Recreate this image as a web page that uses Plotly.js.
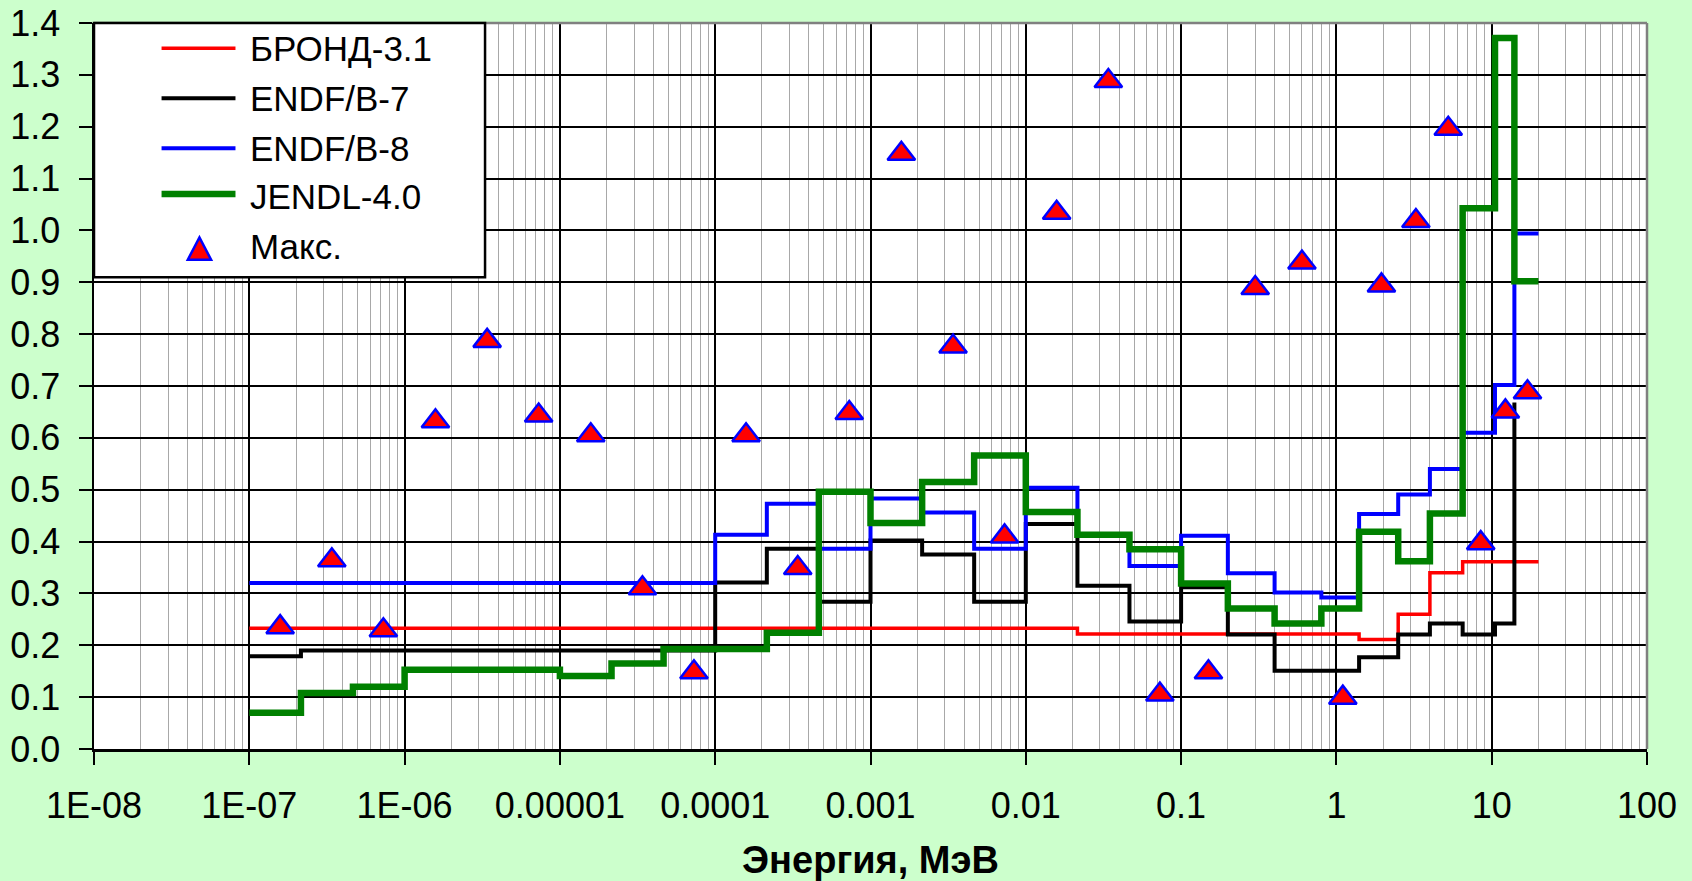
<!DOCTYPE html>
<html>
<head>
<meta charset="utf-8">
<script src="https://cdn.plot.ly/plotly-3.0.1.min.js"></script>
<style>
  html, body { margin: 0; padding: 0; background: #CCFFCC; }
  #chart { width: 1692px; height: 881px; }
</style>
</head>
<body>
<div id="chart"></div>
<script>
// ---------- DATA ----------
// Group boundaries, MeV
const edges = [1e-7, 2.15e-7, 4.65e-7, 1e-6, 2.15e-6, 4.65e-6, 1e-5, 2.15e-5, 4.65e-5,
  1e-4, 2.15e-4, 4.65e-4, 1e-3, 2.15e-3, 4.65e-3, 0.01, 0.0215, 0.0465, 0.1, 0.2, 0.4,
  0.8, 1.4, 2.5, 4, 6.5, 10.5, 14, 20];

// Step values (value of each group at its left boundary; last point closes the step)
const brond31 = [0.233, 0.233, 0.233, 0.233, 0.233, 0.233, 0.233, 0.233, 0.233, 0.233,
  0.233, 0.233, 0.233, 0.233, 0.233, 0.233, 0.222, 0.222, 0.222, 0.222, 0.222, 0.222,
  0.211, 0.26, 0.34, 0.361, 0.361, 0.361, 0.361];

const endfb7E = [1e-7, 2.15e-7, 4.65e-7, 1e-6, 2.15e-6, 4.65e-6, 1e-5, 2.15e-5, 4.65e-5,
  1e-4, 2.15e-4, 4.65e-4, 1e-3, 2.15e-3, 4.65e-3, 0.01, 0.0215, 0.0465, 0.1, 0.2, 0.4,
  0.8, 1.4, 2.5, 4, 6.5, 10.5, 14];
const endfb7 = [0.179, 0.19, 0.19, 0.19, 0.19, 0.19, 0.19, 0.19, 0.19, 0.321, 0.386,
  0.284, 0.402, 0.375, 0.284, 0.434, 0.315, 0.246, 0.312, 0.221, 0.151, 0.151, 0.177,
  0.221, 0.242, 0.221, 0.242, 0.668];

const endfb8 = [0.32, 0.32, 0.32, 0.32, 0.32, 0.32, 0.32, 0.32, 0.32, 0.413, 0.473,
  0.386, 0.483, 0.456, 0.386, 0.504, 0.413, 0.353, 0.411, 0.339, 0.302, 0.292, 0.453,
  0.491, 0.54, 0.61, 0.702, 0.994, 0.994];

const jendl40 = [0.07, 0.108, 0.12, 0.153, 0.153, 0.153, 0.141, 0.165, 0.193, 0.193,
  0.224, 0.496, 0.436, 0.515, 0.566, 0.457, 0.413, 0.385, 0.319, 0.271, 0.242, 0.271,
  0.419, 0.362, 0.454, 1.043, 1.371, 0.902, 0.902];

// Maximum values, one per group
const maxE = [1.58e-7, 3.4e-7, 7.3e-7, 1.58e-6, 3.4e-6, 7.3e-6, 1.58e-5, 3.4e-5, 7.3e-5,
  1.58e-4, 3.4e-4, 7.3e-4, 1.58e-3, 3.4e-3, 7.3e-3, 0.0158, 0.034, 0.073, 0.15, 0.3, 0.6,
  1.1, 1.95, 3.25, 5.25, 8.5, 12.25, 17];
const maxV = [0.235, 0.364, 0.229, 0.632, 0.787, 0.643, 0.605, 0.31, 0.148, 0.605, 0.349,
  0.648, 1.148, 0.776, 0.41, 1.034, 1.288, 0.105, 0.148, 0.889, 0.938, 0.099, 0.894,
  1.018, 1.196, 0.397, 0.651, 0.688];

// Axis tick labels
const xTickVals = [1e-8, 1e-7, 1e-6, 1e-5, 1e-4, 1e-3, 1e-2, 1e-1, 1, 10, 100];
const xTickText = ['1E-08', '1E-07', '1E-06', '0.00001', '0.0001', '0.001', '0.01', '0.1', '1', '10', '100'];

const seriesNames = ['БРОНД-3.1', 'ENDF/B-7', 'ENDF/B-8', 'JENDL-4.0', 'Макс.'];
const xTitle = 'Энергия, МэВ';

// ---------- STYLE ----------
const FONT = 'Liberation Sans, Arial, Helvetica, sans-serif';
const lineStyles = [
  {color: '#FF0000', width: 3.5},
  {color: '#000000', width: 4},
  {color: '#0000FF', width: 4},
  {color: '#008000', width: 6.5}
];

const traces = [
  {x: edges, y: brond31, name: seriesNames[0]},
  {x: endfb7E, y: endfb7, name: seriesNames[1]},
  {x: edges, y: endfb8, name: seriesNames[2]},
  {x: edges, y: jendl40, name: seriesNames[3]}
].map((t, i) => Object.assign(t, {
  type: 'scatter', mode: 'lines',
  line: {shape: 'hv', color: lineStyles[i].color, width: lineStyles[i].width},
  showlegend: false, hoverinfo: 'skip'
}));

traces.push({
  type: 'scatter', mode: 'markers', x: maxE, y: maxV, name: seriesNames[4],
  marker: {symbol: 'triangle-up', size: 24, color: '#FF0000', line: {color: '#0000FF', width: 2.5}},
  showlegend: false, hoverinfo: 'skip'
});

// ---------- manual legend (paper coordinates) ----------
const legBox = {x0: 0, x1: 0.2518, y0: 0.6497, y1: 1};
const legLineX = [0.0435, 0.0911];
const legRowY = [0.9651, 0.8963, 0.8274, 0.7645];
const legTextY = [0.9651, 0.8963, 0.8274, 0.7607, 0.6919];
const legTextX = 0.0992;

const shapes = [
  {type: 'line', xref: 'paper', yref: 'paper', x0: 0, x1: 1, y0: 1, y1: 1,
   line: {color: '#808080', width: 2.5}, layer: 'above'},
  {type: 'line', xref: 'paper', yref: 'paper', x0: 1, x1: 1, y0: 0, y1: 1,
   line: {color: '#808080', width: 2.5}, layer: 'above'},
  {type: 'rect', xref: 'paper', yref: 'paper', x0: legBox.x0, x1: legBox.x1, y0: legBox.y0, y1: legBox.y1,
   fillcolor: '#FFFFFF', line: {color: '#000000', width: 2.5}, layer: 'above'}
];
lineStyles.forEach((s, i) => {
  shapes.push({type: 'line', xref: 'paper', yref: 'paper', x0: legLineX[0], x1: legLineX[1],
    y0: legRowY[i], y1: legRowY[i], line: {color: s.color, width: s.width}, layer: 'above'});
});
shapes.push({type: 'path', xref: 'paper', yref: 'paper',
  path: 'M 0.0604,0.6740 L 0.0754,0.6740 L 0.0679,0.7045 Z',
  fillcolor: '#FF0000', line: {color: '#0000FF', width: 2.5}, layer: 'above'});

const annotations = seriesNames.map((n, i) => ({
  xref: 'paper', yref: 'paper', x: legTextX, y: legTextY[i], text: n,
  showarrow: false, xanchor: 'left', yanchor: 'middle',
  font: {family: FONT, size: 35, color: '#000000'}
}));

const layout = {
  width: 1692, height: 881,
  margin: {l: 94, r: 45, t: 23, b: 132, pad: 0},
  paper_bgcolor: '#CCFFCC', plot_bgcolor: '#FFFFFF',
  showlegend: false,
  font: {family: FONT, size: 36, color: '#000000'},
  xaxis: {
    type: 'log', range: [-8, 2], autorange: false,
    tickmode: 'array', tickvals: xTickVals, ticktext: xTickText,
    ticks: 'outside', ticklen: 13, tickwidth: 2, tickcolor: '#000000',
    ticklabelstandoff: 10,
    tickfont: {family: FONT, size: 36, color: '#000000'},
    showgrid: true, gridcolor: '#000000', gridwidth: 2,
    minor: {dtick: 'D1', showgrid: true, gridcolor: '#a8a8a8', gridwidth: 1, ticks: ''},
    showline: true, linecolor: '#000000', linewidth: 2.5,
    zeroline: false,
    title: {text: xTitle, font: {family: FONT, size: 38, color: '#000000', weight: 'bold'}, standoff: 42}
  },
  yaxis: {
    range: [0, 1.4], autorange: false, tick0: 0, dtick: 0.1, tickformat: '.1f',
    ticks: 'outside', ticklen: 13, tickwidth: 2, tickcolor: '#000000',
    ticklabelstandoff: 11,
    tickfont: {family: FONT, size: 36, color: '#000000'},
    showgrid: true, gridcolor: '#000000', gridwidth: 2,
    showline: true, linecolor: '#000000', linewidth: 2.5,
    zeroline: false
  },
  shapes: shapes,
  annotations: annotations
};

Plotly.newPlot('chart', traces, layout, {displayModeBar: false, staticPlot: true});
</script>
</body>
</html>
